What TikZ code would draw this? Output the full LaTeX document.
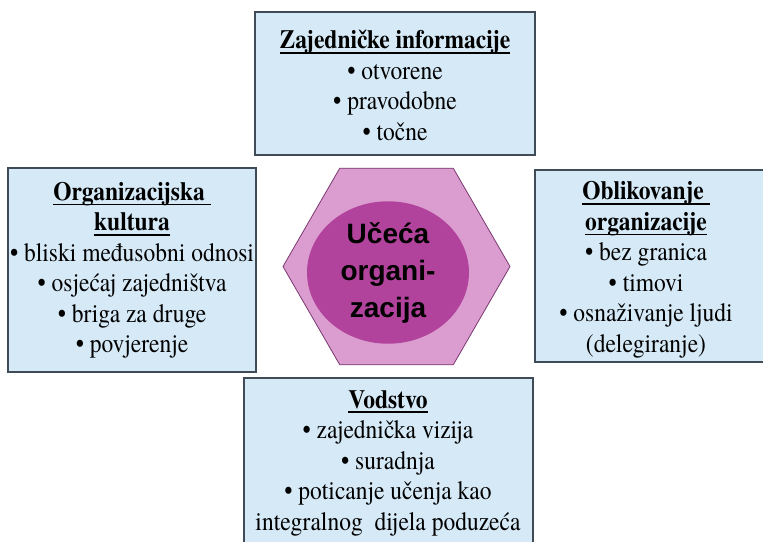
\documentclass[tikz,border=0pt]{standalone}
\usepackage{fontspec}
\usepackage{graphicx}
\setmainfont{TeX Gyre Termes}
\newfontfamily\centerfont{Liberation Sans}
\usetikzlibrary{shapes.geometric}
\newcommand\hd[1]{\setbox0\hbox{\bfseries #1}\leavevmode\rlap{\rule[-4.4pt]{\wd0}{1.5pt}}\box0}
\newcommand\vstretch[1]{\scalebox{1}[1.12]{\begin{tabular}{@{}c@{}}#1\end{tabular}}}
\definecolor{boxfill}{HTML}{D5E9F6}
\definecolor{boxline}{HTML}{3F4B57}
\definecolor{hexfill}{HTML}{DB9DCF}
\definecolor{hexline}{HTML}{7A3872}
\definecolor{ellfill}{HTML}{B2439D}
\tikzset{
  infobox/.style={draw=boxline, line width=1.5pt, fill=boxfill, rectangle, inner sep=0pt},
  boxtext/.style={align=center, inner sep=0pt, font=\rmfamily\fontsize{23.5}{27.2}\selectfont, text=black},
}
\begin{document}
\begin{tikzpicture}[x=1pt,y=-1pt]
\useasboundingbox (0,0) rectangle (763,541);
\clip (0,0) rectangle (763,541);
\fill[white] (0,0) rectangle (763,541);

\node[infobox, minimum width=280pt, minimum height=143pt] (infobox) at (395,83.5) {};
\node[infobox, minimum width=248pt, minimum height=204pt] (kulturabox) at (132,270) {};
\node[infobox, minimum width=240pt, minimum height=192pt] (oblikbox) at (655,266) {};
\node[infobox, minimum width=289pt, minimum height=182pt] (vodbox) at (388.5,469) {};

\node[regular polygon, regular polygon sides=6, minimum size=227pt, inner sep=0pt,
      draw=hexline, line width=0.8pt, fill=hexfill] (hex) at (396.5,266.5) {};
\node[ellipse, minimum width=162pt, minimum height=121pt, inner sep=0pt, fill=ellfill,
      align=center, font=\centerfont\bfseries\fontsize{28}{37}\selectfont, text=black]
      (core) at (388,272.5) {Učeća\\organi-\\zacija};

\node[boxtext] (infotext) at (395,88.5)
  {\vstretch{\hd{Zajedničke informacije}\\• otvorene\\• pravodobne\\• točne}};
\node[boxtext] (kulturatext) at (132,270.5)
  {\vstretch{\hd{Organizacijska\ }\\\hd{kultura}\\• bliski međusobni odnosi\\• osjećaj zajedništva\\• briga za druge\\• povjerenje}};
\node[boxtext] (obliktext) at (646,270)
  {\vstretch{\hd{Oblikovanje\ }\\\hd{organizacije}\\• bez granica\\• timovi\\• osnaživanje ljudi\\(delegiranje)}};
\node[boxtext] (vodtext) at (388,463)
  {\vstretch{\hd{Vodstvo}\\• zajednička vizija\\• suradnja\\• poticanje učenja kao\\integralnog\ \ dijela poduzeća}};
\end{tikzpicture}
\end{document}
